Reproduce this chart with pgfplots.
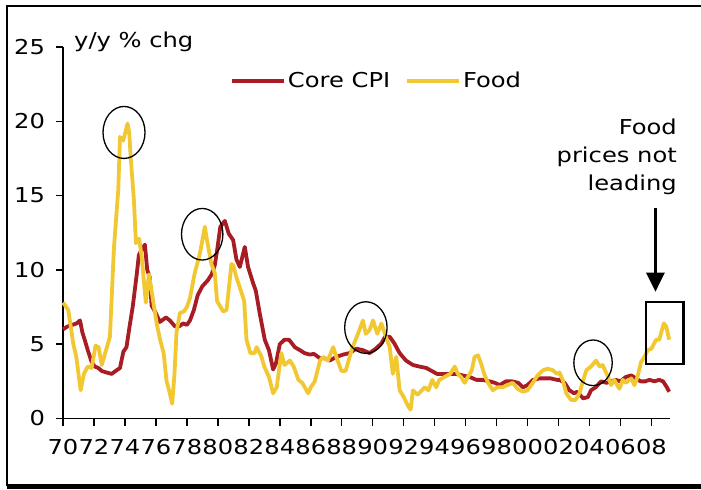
\documentclass[border=0pt]{standalone}
\usepackage{fontspec}
\setmainfont{DejaVu Sans}[FakeStretch=1.18]
\usepackage{pgfplots}
\pgfplotsset{compat=1.18}
\usetikzlibrary{arrows.meta}
\definecolor{corered}{RGB}{168,28,36}
\definecolor{foodyel}{RGB}{242,200,50}
\begin{document}
\fontsize{20.5bp}{28bp}\selectfont
\begin{tikzpicture}
\path[use as bounding box] (0,0) rectangle (701bp,-490bp);
% frame
\draw[line width=2bp] (7bp,-486bp) -- (7bp,-6bp) -- (701bp,-6bp);
\draw[line width=5bp] (7bp,-486bp) -- (701bp,-486bp);
\begin{axis}[
  at={(63bp,-418.5bp)}, anchor=south west,
  scale only axis, width=607bp, height=371.5bp,
  xmin=1970, xmax=2009.2, ymin=0, ymax=25,
  clip=false,
  axis x line=bottom, axis y line=left,
  axis line style={-, line width=1.5bp, black},
  tick align=outside, major tick length=7bp,
  tick style={line width=1.5bp, black},
  xtick={1970,1972,...,2008},
  xticklabels={70,72,74,76,78,80,82,84,86,88,90,92,94,96,98,00,02,04,06,08},
  ytick={0,5,10,15,20,25},
  yticklabels={0,5,10,15,20,25},
  /pgf/number format/assume math mode=true,
  xticklabel style={yshift=-7bp},
  yticklabel style={xshift=-4bp},
  legend columns=2,
  legend style={at={(0.2751,0.9085)}, anchor=west, draw=none, fill=none,
    inner sep=0pt, nodes={inner sep=2bp},
    /tikz/every even column/.append style={column sep=13bp}},
  legend image code/.code={\draw[#1, line width=3.8bp] (0bp,0bp) -- (52bp,0bp);},
]
\addplot[corered, line width=3.8bp, line join=round] coordinates {
(1970.0,6.0)(1970.3,6.2)(1970.6,6.3)(1970.88,6.4)(1971.1,6.6)(1971.25,5.8)(1971.4,5.3)
(1971.6,4.6)(1971.85,3.8)(1972.05,3.5)(1972.28,3.4)(1972.5,3.2)(1972.8,3.1)(1973.14,3.0)
(1973.4,3.2)(1973.68,3.4)(1973.9,4.5)(1974.1,4.8)(1974.3,6.2)(1974.5,7.5)(1974.75,9.6)
(1974.9,11.0)(1975.05,11.3)(1975.29,11.7)(1975.44,10.0)(1975.6,9.5)(1975.72,7.6)(1975.94,7.2)
(1976.26,6.5)(1976.65,6.8)(1976.9,6.6)(1977.23,6.2)(1977.5,6.2)(1977.76,6.4)(1978.0,6.3)
(1978.2,6.6)(1978.45,7.3)(1978.7,8.3)(1979.0,8.9)(1979.35,9.3)(1979.6,9.7)(1979.8,10.3)
(1979.95,11.3)(1980.16,12.9)(1980.45,13.3)(1980.7,12.45)(1980.99,12.0)(1981.2,10.7)(1981.42,10.2)
(1981.74,11.55)(1981.95,10.2)(1982.28,9.1)(1982.45,8.6)(1982.7,7.1)(1983.03,5.3)(1983.3,4.6)
(1983.57,3.3)(1983.75,3.7)(1984.0,5.0)(1984.3,5.3)(1984.6,5.3)(1984.97,4.8)(1985.3,4.6)
(1985.6,4.4)(1985.94,4.3)(1986.2,4.35)(1986.6,4.05)(1986.9,4.05)(1987.23,3.9)(1987.65,4.15)
(1988.08,4.3)(1988.5,4.4)(1988.94,4.7)(1989.37,4.6)(1989.8,4.4)(1990.2,4.7)(1990.56,5.05)
(1990.8,5.5)(1991.1,5.5)(1991.4,5.05)(1991.74,4.4)(1992.15,3.9)(1992.6,3.6)(1993.0,3.5)
(1993.46,3.4)(1993.9,3.15)(1994.16,3.0)(1994.54,3.0)(1995.0,3.0)(1995.4,3.0)(1995.8,2.9)
(1996.25,2.8)(1996.7,2.6)(1997.1,2.6)(1997.55,2.5)(1997.9,2.4)(1998.2,2.25)(1998.6,2.5)
(1999.0,2.5)(1999.4,2.4)(1999.7,2.1)(2000.0,2.25)(2000.35,2.6)(2000.8,2.7)(2001.2,2.7)
(2001.5,2.7)(2001.9,2.6)(2002.06,2.6)(2002.4,2.4)(2002.7,1.9)(2003.0,1.7)(2003.2,1.8)
(2003.6,1.35)(2003.9,1.45)(2004.1,1.9)(2004.4,2.1)(2004.75,2.5)(2005.1,2.4)(2005.4,2.5)
(2005.7,2.6)(2006.0,2.5)(2006.35,2.8)(2006.7,2.9)(2007.0,2.7)(2007.3,2.5)(2007.6,2.5)
(2007.87,2.6)(2008.2,2.5)(2008.5,2.6)(2008.75,2.5)(2008.94,2.2)(2009.15,1.8)
};
\addlegendentry{Core CPI}
\addplot[foodyel, line width=3.8bp, line join=round] coordinates {
(1970.0,7.8)(1970.15,7.6)(1970.34,7.3)(1970.5,6.2)(1970.67,5.0)(1970.85,4.2)(1971.14,1.9)
(1971.35,3.0)(1971.6,3.5)(1971.85,3.4)(1972.1,4.9)(1972.3,4.8)(1972.5,3.6)(1972.75,4.5)
(1973.03,5.5)(1973.29,11.5)(1973.57,15.4)(1973.68,18.95)(1973.89,18.7)(1974.17,19.85)(1974.28,19.2)
(1974.37,17.6)(1974.58,14.7)(1974.71,11.8)(1974.92,12.1)(1975.08,10.9)(1975.35,7.8)(1975.55,9.7)
(1975.72,8.6)(1975.85,7.7)(1976.05,6.4)(1976.27,5.3)(1976.5,4.4)(1976.69,2.5)(1976.85,1.9)
(1977.05,1.0)(1977.2,3.0)(1977.33,5.8)(1977.55,7.1)(1977.8,7.2)(1978.0,7.5)(1978.2,8.1)
(1978.5,9.75)(1978.84,11.1)(1979.16,12.9)(1979.3,12.0)(1979.58,10.4)(1979.8,9.8)(1979.95,7.9)
(1980.35,7.2)(1980.56,7.3)(1980.88,10.4)(1981.0,10.3)(1981.2,9.5)(1981.52,8.5)(1981.7,7.9)
(1981.85,5.3)(1982.1,4.4)(1982.37,4.4)(1982.5,4.8)(1982.8,4.2)(1983.0,3.5)(1983.3,2.8)
(1983.57,1.7)(1983.8,2.1)(1984.1,4.4)(1984.3,3.6)(1984.65,3.9)(1984.9,3.5)(1985.2,2.6)
(1985.45,2.4)(1985.83,1.7)(1986.0,2.1)(1986.26,2.5)(1986.6,3.9)(1986.8,4.15)(1987.1,3.9)
(1987.45,4.8)(1987.65,4.15)(1987.98,3.2)(1988.25,3.2)(1988.51,4.15)(1988.7,4.8)(1989.05,5.7)
(1989.37,6.6)(1989.55,5.7)(1989.8,5.95)(1990.02,6.6)(1990.3,5.7)(1990.56,6.4)(1990.85,5.5)
(1991.1,4.8)(1991.3,3.0)(1991.52,4.15)(1991.74,1.9)(1992.0,1.45)(1992.3,0.8)(1992.45,0.6)
(1992.6,1.9)(1992.9,1.6)(1993.36,2.1)(1993.6,1.9)(1993.85,2.6)(1994.1,2.1)(1994.3,2.6)
(1994.65,2.8)(1995.0,3.0)(1995.3,3.5)(1995.5,3.0)(1995.7,2.8)(1995.94,2.4)(1996.15,2.8)
(1996.4,3.25)(1996.58,4.15)(1996.8,4.25)(1997.0,3.7)(1997.2,3.0)(1997.45,2.4)(1997.76,1.9)
(1998.05,2.1)(1998.4,2.1)(1998.7,2.25)(1999.05,2.4)(1999.35,2.0)(1999.7,1.8)(2000.0,1.9)
(2000.34,2.4)(2000.65,2.9)(2001.0,3.25)(2001.3,3.35)(2001.63,3.25)(2001.9,3.0)(2002.06,3.1)
(2002.27,2.6)(2002.5,1.7)(2002.8,1.25)(2003.1,1.25)(2003.35,1.7)(2003.6,2.6)(2003.8,3.25)
(2004.1,3.5)(2004.42,3.9)(2004.65,3.5)(2004.85,3.6)(2005.2,2.8)(2005.4,2.25)(2005.6,2.6)
(2005.93,2.0)(2006.15,2.6)(2006.35,2.4)(2006.7,2.7)(2006.9,2.25)(2007.1,2.8)(2007.33,3.8)
(2007.55,4.15)(2007.76,4.6)(2008.0,4.7)(2008.3,5.3)(2008.5,5.3)(2008.8,6.4)(2008.95,6.2)
(2009.15,5.3)
};
\addlegendentry{Food}
% annotations
\draw[line width=1.3bp] (axis cs:1973.94,19.25) ellipse [x radius=21bp, y radius=26bp];
\draw[line width=1.3bp] (axis cs:1978.99,12.4) ellipse [x radius=20.7bp, y radius=25.8bp];
\draw[line width=1.3bp] (axis cs:1989.56,6.12) ellipse [x radius=21.2bp, y radius=25.8bp];
\draw[line width=1.3bp] (axis cs:2004.23,3.75) ellipse [x radius=19.2bp, y radius=22.8bp];
\draw[line width=2.5bp] (axis cs:2007.66,3.67) rectangle (axis cs:2010.06,7.85);
\draw[line width=2.5bp, -{Triangle[width=18bp,length=19bp]}] (axis cs:2008.26,14.15) -- (axis cs:2008.26,8.53);
\end{axis}
\node[anchor=base west, inner sep=0pt] at (74bp,-47bp) {y/y \% chg};
\node[anchor=north east, inner sep=0pt, align=right, font=\fontsize{20.5bp}{28bp}\selectfont] at (677bp,-118.4bp) {Food\\prices not\\leading};
\end{tikzpicture}
\end{document}
